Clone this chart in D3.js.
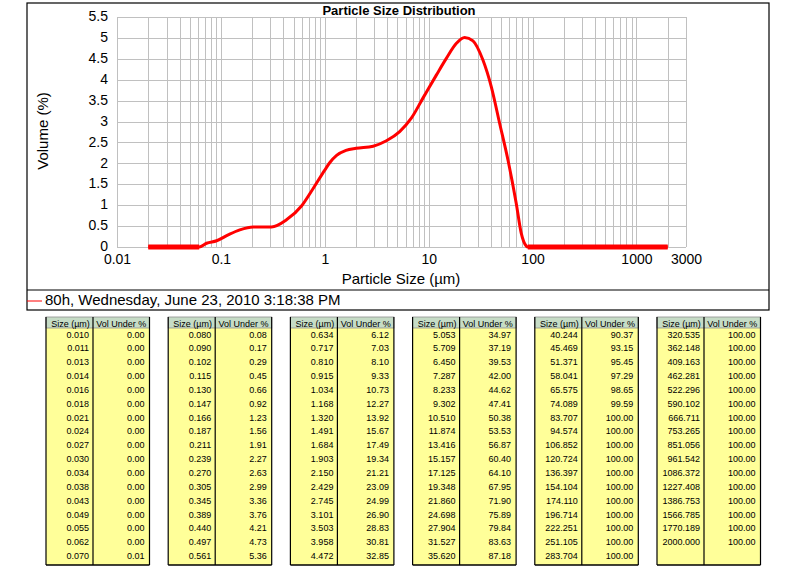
<!DOCTYPE html>
<html>
<head>
<meta charset="utf-8">
<script src="https://cdn.jsdelivr.net/npm/d3@7"></script>
<style>
  body { margin: 0; background: #fff; }
  svg { display: block; font-family: Arial, "Liberation Sans", sans-serif; }
</style>
</head>
<body>
<div id="chart"></div>
<script>
// frequency curve (size in um, volume %)
var curveSizes = [0.02, 0.0618, 0.0728, 0.091, 0.1175, 0.152, 0.205, 0.307, 0.428, 0.597, 0.773, 1.0, 1.12,
  1.3, 1.6, 2.0, 2.92, 3.92, 5.26, 6.81, 8.81, 11.85, 14.8, 18.5, 22.2, 26.7, 33.3, 40.1, 48.2, 58.0, 69.7,
  77.8, 87.1, 90, 2000];
var curveVolume = [0, 0, 0.09, 0.15, 0.29, 0.41, 0.48, 0.48, 0.65, 0.98, 1.40, 1.84, 2.02,
  2.19, 2.31, 2.36, 2.41, 2.54, 2.76, 3.08, 3.56, 4.11, 4.51, 4.87, 5.01, 4.93, 4.47, 3.83, 2.96, 2.08, 1.04,
  0.33, 0.02, 0, 0];

var xTicks = [0.01, 0.1, 1, 10, 100, 1000, 3000];
var yTicks = [0, 0.5, 1, 1.5, 2, 2.5, 3, 3.5, 4, 4.5, 5, 5.5];

var chartTitle = "Particle Size Distribution";
var xTitle = "Particle Size (\u00b5m)";
var yTitle = "Volume (%)";
var legendLabel = "80h, Wednesday, June 23, 2010 3:18:38 PM";

// table below the chart
var tableHeaders = ["Size (\u00b5m)", "Vol Under %"];
var tableSizes = [
  0.010, 0.011, 0.013, 0.014, 0.016, 0.018, 0.021, 0.024, 0.027, 0.030, 0.034, 0.038, 0.043, 0.049, 0.055, 0.062, 0.070,
  0.080, 0.090, 0.102, 0.115, 0.130, 0.147, 0.166, 0.187, 0.211, 0.239, 0.270, 0.305, 0.345, 0.389, 0.440, 0.497, 0.561,
  0.634, 0.717, 0.810, 0.915, 1.034, 1.168, 1.320, 1.491, 1.684, 1.903, 2.150, 2.429, 2.745, 3.101, 3.503, 3.958, 4.472,
  5.053, 5.709, 6.450, 7.287, 8.233, 9.302, 10.510, 11.874, 13.416, 15.157, 17.125, 19.348, 21.860, 24.698, 27.904, 31.527, 35.620,
  40.244, 45.469, 51.371, 58.041, 65.575, 74.089, 83.707, 94.574, 106.852, 120.724, 136.397, 154.104, 174.110, 196.714, 222.251, 251.105, 283.704,
  320.535, 362.148, 409.163, 462.281, 522.296, 590.102, 666.711, 753.265, 851.056, 961.542, 1086.372, 1227.408, 1386.753, 1566.785, 1770.189, 2000.000
];
var tableVolUnder = [
  0.00, 0.00, 0.00, 0.00, 0.00, 0.00, 0.00, 0.00, 0.00, 0.00, 0.00, 0.00, 0.00, 0.00, 0.00, 0.00, 0.01,
  0.08, 0.17, 0.29, 0.45, 0.66, 0.92, 1.23, 1.56, 1.91, 2.27, 2.63, 2.99, 3.36, 3.76, 4.21, 4.73, 5.36,
  6.12, 7.03, 8.10, 9.33, 10.73, 12.27, 13.92, 15.67, 17.49, 19.34, 21.21, 23.09, 24.99, 26.90, 28.83, 30.81, 32.85,
  34.97, 37.19, 39.53, 42.00, 44.62, 47.41, 50.38, 53.53, 56.87, 60.40, 64.10, 67.95, 71.90, 75.89, 79.84, 83.63, 87.18,
  90.37, 93.15, 95.45, 97.29, 98.65, 99.59, 100.00, 100.00, 100.00, 100.00, 100.00, 100.00, 100.00, 100.00, 100.00, 100.00, 100.00,
  100.00, 100.00, 100.00, 100.00, 100.00, 100.00, 100.00, 100.00, 100.00, 100.00, 100.00, 100.00, 100.00, 100.00, 100.00, 100.00
];

var width = 801, height = 572;
var plot = {left: 117, right: 686, top: 17, bottom: 247};
var box = {left: 27, right: 769, top: 3, bottom: 310, legend: 290};
var rowsPerTable = 17;

var svg = d3.select("#chart").append("svg")
  .attr("width", width)
  .attr("height", height);

svg.append("rect").attr("width", width).attr("height", height).attr("fill", "#fff");

var x = d3.scaleLog().domain([0.01, 3000]).range([plot.left, plot.right]);
var y = d3.scaleLinear().domain([0, 5.5]).range([plot.bottom, plot.top]);

// grid
var grid = svg.append("g").attr("stroke", "#c0c0c0").attr("stroke-width", 1).attr("shape-rendering", "crispEdges");
grid.selectAll(".vg")
  .data(x.ticks())
  .enter().append("line")
  .attr("x1", function(d) { return Math.round(x(d)) + 0.5; })
  .attr("x2", function(d) { return Math.round(x(d)) + 0.5; })
  .attr("y1", plot.top)
  .attr("y2", plot.bottom);
grid.selectAll(".hg")
  .data(yTicks)
  .enter().append("line")
  .attr("x1", plot.left)
  .attr("x2", plot.right)
  .attr("y1", function(d) { return Math.round(y(d)) + 0.5; })
  .attr("y2", function(d) { return Math.round(y(d)) + 0.5; });

// axes (labels only)
var yAxis = d3.axisLeft(y).tickValues(yTicks).tickSize(0).tickPadding(9)
  .tickFormat(function(d) { return String(d); });
var xAxis = d3.axisBottom(x).tickValues(xTicks).tickSize(0).tickPadding(7)
  .tickFormat(function(d) { return String(d); });

var gy = svg.append("g").attr("transform", "translate(" + plot.left + ",0)").call(yAxis);
var gx = svg.append("g").attr("transform", "translate(0," + plot.bottom + ")").call(xAxis);
[gx, gy].forEach(function(g) {
  g.select(".domain").remove();
  g.selectAll("text").attr("font-size", 14).attr("fill", "#000")
    .attr("font-family", "Arial, 'Liberation Sans', sans-serif");
});
gy.selectAll("text").attr("dy", "0.26em");

// curve
var points = curveSizes.map(function(s, i) { return {s: s, v: curveVolume[i]}; });
var line = d3.line()
  .x(function(d) { return x(d.s); })
  .y(function(d) { return y(d.v); })
  .curve(d3.curveMonotoneX);

svg.append("path")
  .datum(points)
  .attr("fill", "none")
  .attr("stroke", "#ff0000")
  .attr("stroke-width", 3)
  .attr("stroke-linejoin", "round")
  .attr("d", line);

// zero runs look heavier in the original
svg.append("path")
  .datum(points)
  .attr("fill", "none")
  .attr("stroke", "#ff0000")
  .attr("stroke-width", 5)
  .attr("d", line.defined(function(d) { return d.v === 0; }).curve(d3.curveLinear));

// titles
svg.append("text")
  .attr("x", 399).attr("y", 15)
  .attr("text-anchor", "middle")
  .attr("font-size", 13).attr("font-weight", "bold")
  .text(chartTitle);

svg.append("text")
  .attr("x", 401).attr("y", 284)
  .attr("text-anchor", "middle")
  .attr("font-size", 15)
  .text(xTitle);

svg.append("text")
  .attr("transform", "translate(48,131) rotate(-90)")
  .attr("text-anchor", "middle")
  .attr("font-size", 15)
  .text(yTitle);

// frame and legend
var frame = svg.append("g").attr("stroke", "#000").attr("stroke-width", 1.2).attr("fill", "none");
frame.append("rect")
  .attr("x", box.left).attr("y", box.top)
  .attr("width", box.right - box.left).attr("height", box.bottom - box.top);
frame.append("line")
  .attr("x1", box.left).attr("x2", box.right)
  .attr("y1", box.legend).attr("y2", box.legend);

svg.append("line")
  .attr("x1", box.left).attr("x2", 42)
  .attr("y1", 301).attr("y2", 301)
  .attr("stroke", "#ff0000").attr("stroke-width", 1);
svg.append("text")
  .attr("x", 45).attr("y", 305)
  .attr("font-size", 15)
  .text(legendLabel);

// tables
var fmtSize = d3.format(".3f"), fmtVol = d3.format(".2f");
var tableLeft = 46, tablePitch = 122.2, col1 = 47, col2 = 56.5;
var headTop = 317, bodyTop = 328, rowH = 13.85, tableBottom = 565;

d3.range(6).forEach(function(t) {
  var left = tableLeft + t * tablePitch;
  var g = svg.append("g").attr("transform", "translate(" + left + ",0)");
  var rows = d3.range(t * rowsPerTable, Math.min((t + 1) * rowsPerTable, tableSizes.length));

  g.append("rect")
    .attr("x", 0).attr("y", bodyTop)
    .attr("width", col1 + col2).attr("height", tableBottom - bodyTop)
    .attr("fill", "#ffff99");
  g.append("rect")
    .attr("x", 0).attr("y", headTop)
    .attr("width", col1 + col2).attr("height", bodyTop - headTop)
    .attr("fill", "#c6dcc6").attr("stroke", "#909090").attr("stroke-width", 0.8);

  g.selectAll(".head")
    .data(tableHeaders)
    .enter().append("text")
    .attr("x", function(d, i) { return i === 0 ? col1 / 2 + 1 : col1 + col2 / 2; })
    .attr("y", headTop + 9.5)
    .attr("text-anchor", "middle")
    .attr("font-size", 9)
    .text(function(d) { return d; });

  g.selectAll(".sz")
    .data(rows)
    .enter().append("text")
    .attr("x", col1 - 4)
    .attr("y", function(d, i) { return bodyTop + rowH * i + 9.5; })
    .attr("text-anchor", "end")
    .attr("font-size", 9)
    .text(function(d) { return fmtSize(tableSizes[d]); });

  g.selectAll(".vu")
    .data(rows)
    .enter().append("text")
    .attr("x", col1 + col2 - 5)
    .attr("y", function(d, i) { return bodyTop + rowH * i + 9.5; })
    .attr("text-anchor", "end")
    .attr("font-size", 9)
    .text(function(d) { return fmtVol(tableVolUnder[d]); });

  var lines = g.append("g").attr("stroke", "#000").attr("stroke-width", 1.2);
  [0, col1, col1 + col2].forEach(function(cx) {
    lines.append("line").attr("x1", cx).attr("x2", cx).attr("y1", headTop).attr("y2", tableBottom);
  });
  lines.append("line").attr("x1", 0).attr("x2", col1 + col2).attr("y1", tableBottom).attr("y2", tableBottom)
    .attr("stroke-width", 1.5);
});
</script>
</body>
</html>
